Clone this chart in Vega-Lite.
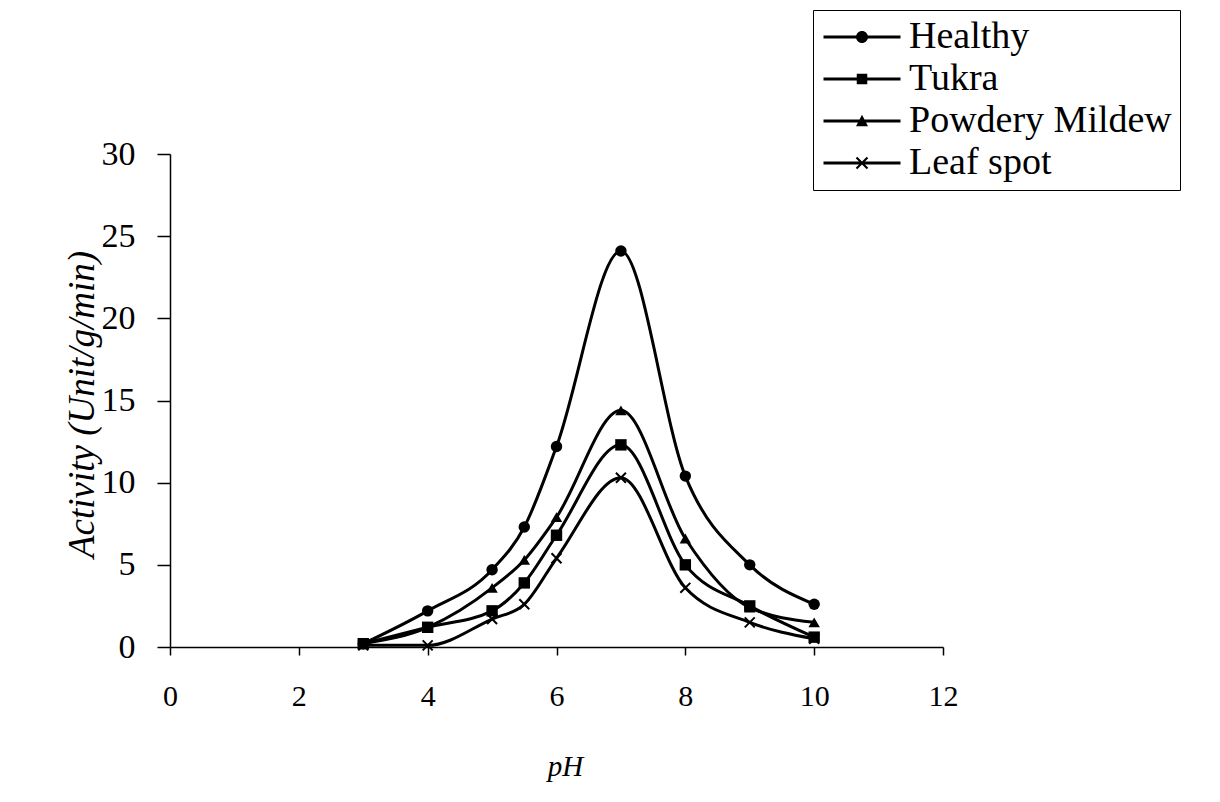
{
  "$schema": "https://vega.github.io/schema/vega-lite/v6.json",
  "width": 773,
  "height": 493,
  "autosize": {"type": "none"},
  "padding": {"left": 170, "top": 154, "right": 277, "bottom": 155},
  "background": "white",
  "config": {
    "view": {"stroke": null},
    "font": "Liberation Serif",
    "legend": {"labelFont": "Liberation Serif"},
    "axis": {"grid": false, "domainColor": "black", "tickColor": "black", "labelColor": "black", "titleColor": "black", "labelFont": "Liberation Serif", "titleFont": "Liberation Serif", "titleFontWeight": "normal", "titleFontStyle": "italic", "domainWidth": 1.5, "tickWidth": 1.5}
  },
  "data": {
    "values": [
      {"series": "Healthy", "pH": 3, "activity": 0.2},
      {"series": "Healthy", "pH": 4, "activity": 2.2},
      {"series": "Healthy", "pH": 5, "activity": 4.7},
      {"series": "Healthy", "pH": 5.5, "activity": 7.3},
      {"series": "Healthy", "pH": 6, "activity": 12.2},
      {"series": "Healthy", "pH": 7, "activity": 24.1},
      {"series": "Healthy", "pH": 8, "activity": 10.4},
      {"series": "Healthy", "pH": 9, "activity": 5.0},
      {"series": "Healthy", "pH": 10, "activity": 2.6},
      {"series": "Tukra", "pH": 3, "activity": 0.2},
      {"series": "Tukra", "pH": 4, "activity": 1.2},
      {"series": "Tukra", "pH": 5, "activity": 2.2},
      {"series": "Tukra", "pH": 5.5, "activity": 3.9},
      {"series": "Tukra", "pH": 6, "activity": 6.8},
      {"series": "Tukra", "pH": 7, "activity": 12.3},
      {"series": "Tukra", "pH": 8, "activity": 5.0},
      {"series": "Tukra", "pH": 9, "activity": 2.5},
      {"series": "Tukra", "pH": 10, "activity": 0.6},
      {"series": "Powdery Mildew", "pH": 3, "activity": 0.2},
      {"series": "Powdery Mildew", "pH": 4, "activity": 1.2},
      {"series": "Powdery Mildew", "pH": 5, "activity": 3.6},
      {"series": "Powdery Mildew", "pH": 5.5, "activity": 5.3},
      {"series": "Powdery Mildew", "pH": 6, "activity": 7.9},
      {"series": "Powdery Mildew", "pH": 7, "activity": 14.4},
      {"series": "Powdery Mildew", "pH": 8, "activity": 6.6},
      {"series": "Powdery Mildew", "pH": 9, "activity": 2.4},
      {"series": "Powdery Mildew", "pH": 10, "activity": 1.5},
      {"series": "Leaf spot", "pH": 3, "activity": 0.1},
      {"series": "Leaf spot", "pH": 4, "activity": 0.1},
      {"series": "Leaf spot", "pH": 5, "activity": 1.7},
      {"series": "Leaf spot", "pH": 5.5, "activity": 2.6},
      {"series": "Leaf spot", "pH": 6, "activity": 5.4},
      {"series": "Leaf spot", "pH": 7, "activity": 10.3},
      {"series": "Leaf spot", "pH": 8, "activity": 3.6},
      {"series": "Leaf spot", "pH": 9, "activity": 1.5},
      {"series": "Leaf spot", "pH": 10, "activity": 0.5}
    ]
  },
  "encoding": {
    "x": {"field": "pH", "type": "quantitative", "scale": {"domain": [0, 12], "nice": false}, "axis": {"values": [0, 2, 4, 6, 8, 10, 12], "title": "pH", "tickSize": 8, "labelPadding": 26, "labelFontSize": 30, "labelFlush": false, "titleFontSize": 29, "titleX": 395, "titleY": 128, "titleBaseline": "alphabetic"}},
    "y": {"field": "activity", "type": "quantitative", "scale": {"domain": [0, 30], "nice": false}, "axis": {"values": [0, 5, 10, 15, 20, 25, 30], "title": "Activity (Unit/g/min)", "tickSize": 13, "labelPadding": 22, "labelFontSize": 34, "labelFlush": false, "titleFontSize": 37, "titleAngle": -90, "titleX": -88, "titleY": 250, "titleAlign": "center", "titleBaseline": "middle"}}
  },
  "layer": [
    {
      "mark": {"type": "line", "interpolate": "monotone", "color": "black", "strokeWidth": 3},
      "encoding": {"detail": {"field": "series"}}
    },
    {
      "mark": {"type": "point", "filled": true, "color": "black", "opacity": 1, "size": 130},
      "encoding": {
        "shape": {
          "field": "series",
          "type": "nominal",
          "scale": {"domain": ["Healthy", "Tukra", "Powdery Mildew", "Leaf spot"], "range": ["circle", "square", "triangle-up", "M-1,-0.75L-0.75,-1L1,0.75L0.75,1Z M0.75,-1L1,-0.75L-0.75,1L-1,0.75Z"]},
          "legend": null
        }
      }
    },
    {
      "mark": {"type": "point", "filled": true, "color": "black", "opacity": 0, "size": 1},
      "encoding": {
        "shape": {
          "field": "series",
          "type": "nominal",
          "scale": {"domain": ["Healthy", "Tukra", "Powdery Mildew", "Leaf spot"], "range": [
            "M-3.08,-0.12H3.08V0.12H-3.08Z M-0.48,0A0.48,0.48 0 1,1 0.48,0A0.48,0.48 0 1,1 -0.48,0Z",
            "M-3.08,-0.12H3.08V0.12H-3.08Z M-0.42,-0.42H0.42V0.42H-0.42Z",
            "M-3.08,-0.12H3.08V0.12H-3.08Z M0,-0.5L0.48,0.42H-0.48Z",
            "M-3.08,-0.12H3.08V0.12H-3.08Z M-0.5,-0.38L-0.38,-0.5L0.5,0.38L0.38,0.5Z M0.38,-0.5L0.5,-0.38L-0.38,0.5L-0.5,0.38Z"
          ]},
          "legend": {
            "title": null,
            "orient": "none",
            "legendX": 643,
            "legendY": -144,
            "strokeColor": "black",
            "fillColor": "white",
            "padding": 8,
            "labelFont": "Liberation Serif",
            "labelFontSize": 38,
            "labelColor": "black",
            "labelLimit": 500,
            "symbolSize": 625,
            "symbolFillColor": "black",
            "symbolStrokeColor": "black",
            "symbolStrokeWidth": 0,
            "symbolOpacity": 1,
            "symbolOffset": 22,
            "rowPadding": 4,
            "labelOffset": 28
          }
        }
      }
    }
  ],
  "resolve": {"scale": {"shape": "independent"}, "legend": {"shape": "independent"}}
}
